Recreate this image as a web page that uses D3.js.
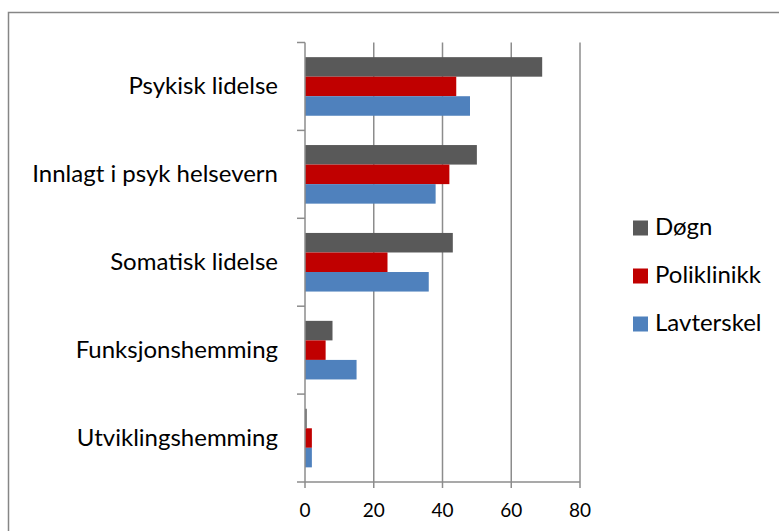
<!DOCTYPE html>
<html>
<head>
<meta charset="utf-8">
<script src="https://cdn.jsdelivr.net/npm/d3@7"></script>
<style>
  html, body { margin: 0; padding: 0; background: #fff; }
  svg { display: block; font-family: Lato, "Open Sans", sans-serif; }
</style>
</head>
<body>
<svg id="chart" width="779" height="531"></svg>
<script>
const categories = ["Psykisk lidelse", "Innlagt i psyk helsevern", "Somatisk lidelse", "Funksjonshemming", "Utviklingshemming"];
const seriesNames = ["Døgn", "Poliklinikk", "Lavterskel"];
const dognValues = [69, 50, 43, 8, 0.5];
const poliklinikkValues = [44, 42, 24, 6, 2];
const lavterskelValues = [48, 38, 36, 15, 2];
const xTicks = [0, 20, 40, 60, 80];
const colors = ["#595959", "#C00000", "#4F81BD"];

const seriesValues = [dognValues, poliklinikkValues, lavterskelValues];
const data = categories.map((c, i) => ({
  category: c,
  values: seriesNames.map((s, j) => ({ series: s, value: seriesValues[j][i] }))
}));

const svg = d3.select("#chart");

// outer chart border
svg.append("rect")
  .attr("x", 8.5).attr("y", 12.5)
  .attr("width", 780).attr("height", 560)
  .attr("fill", "none").attr("stroke", "#868686").attr("stroke-width", 1.5);

const plotLeft = 305, plotRight = 580, plotTop = 42.5, plotBottom = 482;

const x = d3.scaleLinear().domain([0, 80]).range([plotLeft, plotRight]);
const y = d3.scaleBand().domain(categories).range([plotTop, plotBottom]).padding(0);
const yInner = d3.scaleBand().domain(seriesNames).range([0, y.bandwidth()])
  .paddingInner(0).paddingOuter(0.75);

// gridlines
svg.append("g").selectAll("line")
  .data(xTicks.filter(t => t > 0))
  .join("line")
  .attr("x1", d => x(d)).attr("x2", d => x(d))
  .attr("y1", plotTop).attr("y2", plotBottom)
  .attr("stroke", "#8c8c8c").attr("stroke-width", 1.5);

// bars
const groups = svg.append("g").selectAll("g")
  .data(data)
  .join("g")
  .attr("transform", d => `translate(0,${y(d.category)})`);

groups.selectAll("rect")
  .data(d => d.values)
  .join("rect")
  .attr("x", x(0))
  .attr("y", d => yInner(d.series))
  .attr("width", d => x(d.value) - x(0))
  .attr("height", yInner.bandwidth())
  .attr("fill", (d, i) => colors[i]);

// y axis (category boundaries ticks)
const yAxisG = svg.append("g");
yAxisG.append("line")
  .attr("x1", plotLeft).attr("x2", plotLeft).attr("y1", plotTop).attr("y2", plotBottom)
  .attr("stroke", "#8c8c8c").attr("stroke-width", 1.5);
const boundaries = categories.map(c => y(c)).concat([y(categories[categories.length - 1]) + y.bandwidth()]);
yAxisG.selectAll("line.tick")
  .data(boundaries)
  .join("line").attr("class", "tick")
  .attr("x1", plotLeft - 8).attr("x2", plotLeft)
  .attr("y1", d => d).attr("y2", d => d)
  .attr("stroke", "#8c8c8c").attr("stroke-width", 1.5);
yAxisG.selectAll("text")
  .data(categories)
  .join("text")
  .attr("x", 278)
  .attr("y", d => y(d) + y.bandwidth() / 2)
  .attr("dy", "0.33em")
  .attr("text-anchor", "end")
  .attr("font-size", 24)
  .attr("fill", "#000")
  .text(d => d);

// x axis
const xAxisG = svg.append("g");
xAxisG.append("line")
  .attr("x1", plotLeft).attr("x2", plotRight).attr("y1", plotBottom).attr("y2", plotBottom)
  .attr("stroke", "#8c8c8c").attr("stroke-width", 1.5);
xAxisG.selectAll("line.tick")
  .data(xTicks)
  .join("line").attr("class", "tick")
  .attr("x1", d => x(d)).attr("x2", d => x(d))
  .attr("y1", plotBottom).attr("y2", plotBottom + 6)
  .attr("stroke", "#8c8c8c").attr("stroke-width", 1.5);
xAxisG.selectAll("text")
  .data(xTicks)
  .join("text")
  .attr("x", d => x(d))
  .attr("y", 510)
  .attr("dy", "0.35em")
  .attr("text-anchor", "middle")
  .attr("font-size", 19)
  .attr("fill", "#000")
  .text(d => d);

// legend
const legend = svg.append("g");
const legendItems = legend.selectAll("g")
  .data(seriesNames)
  .join("g")
  .attr("transform", (d, i) => `translate(633,${228 + i * 48})`);
legendItems.append("rect")
  .attr("x", 0).attr("y", -7.5)
  .attr("width", 15).attr("height", 15)
  .attr("fill", (d, i) => colors[i]);
legendItems.append("text")
  .attr("x", 22).attr("y", 0)
  .attr("dy", "0.3em")
  .attr("font-size", 24)
  .attr("fill", "#000")
  .text(d => d);
</script>
</body>
</html>
